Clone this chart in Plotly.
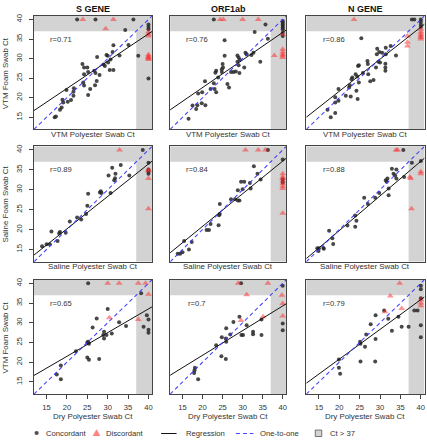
import plotly.graph_objects as go

# ---------------- data ----------------
gene_titles = ["S GENE", "ORF1ab", "N GENE"]
x_titles = ["VTM Polyester Swab Ct", "Saline Polyester Swab Ct", "Dry Polyester Swab Ct"]
y_titles = ["VTM Foam Swab Ct", "Saline Foam Swab Ct", "VTM Foam Swab Ct"]
tick_values = [15, 20, 25, 30, 35, 40]
ct_cutoff = 37
r_values = ["0.71", "0.76", "0.86", "0.89", "0.84", "0.88", "0.65", "0.7", "0.79"]
reg_intercept = [8.4, 8.5, 5.25, 3.9, 4.4, 2.35, 9.5, 9.26, 5.7]
reg_slope = [0.698, 0.705, 0.82, 0.814, 0.82, 0.87, 0.60, 0.625, 0.754]

# Panel 1: VTM, S gene
p1_conc_x = [22.5, 27, 36.3, 34.3, 37.5, 40, 40, 40, 40, 17.0, 17.3, 18.3, 18.7, 19.1, 18.9, 20.2, 21.0, 19.9, 21.6, 21.7, 21.6, 23.8, 24.2, 25.0, 24.2, 24.0, 24.2, 25.2, 25.7, 26.7, 27.0, 27.4, 27.3, 26.9, 28.0, 29.0, 29.3, 29.7, 30.0, 30.1, 30.5, 31.4, 30.7, 31.2, 31.4, 32.9, 35.1, 25.2]
p1_conc_y = [40, 40, 40, 37.3, 30.7, 38.7, 38.1, 37.5, 24.9, 15.0, 15.2, 16.9, 17.5, 18.8, 19.5, 19.0, 19.4, 22.0, 21.5, 22.4, 20.5, 28.6, 27.7, 27.7, 26.0, 23.9, 23.1, 20.7, 22.2, 26.9, 26.3, 30.4, 24.3, 23.2, 25.8, 28.5, 28.1, 30.9, 30.7, 29.0, 27.1, 27.1, 29.8, 31.7, 33.4, 30.8, 33.5, 26.6]
p1_disc_x = [23.9, 31.4, 29.5, 40, 40, 40, 40, 40, 40, 40, 40]
p1_disc_y = [40, 40, 37.6, 36.8, 36.2, 35.8, 31.0, 30.6, 30.3, 30.0, 29.8]

# Panel 2: VTM, ORF1ab
p2_conc_x = [22.8, 35.7, 33.0, 36.3, 40, 40, 40, 40, 40, 40, 40, 40, 25.5, 25.5, 28.7, 29.0, 30.7, 31.0, 32.2, 29.3, 28.7, 29.0, 30.4, 29.2, 27.7, 28.3, 27.1, 25.0, 25.1, 24.8, 23.4, 23.2, 23.9, 24.8, 20.6, 26.2, 26.6, 22.8, 23.0, 23.4, 22.0, 19.9, 18.9, 19.8, 20.7, 18.7, 18.4, 17.5, 16.5, 34.4, 32.7]
p2_conc_y = [40, 38.7, 36.8, 35.1, 39.6, 39.2, 38.7, 38.3, 37.9, 37.5, 36.6, 35.8, 34.7, 30.7, 30.8, 30.3, 31.5, 31.1, 30.9, 29.7, 29.2, 28.3, 27.7, 26.3, 26.6, 26.7, 26.6, 28.6, 27.7, 27.3, 26.9, 26.4, 25.2, 26.6, 24.2, 23.5, 22.6, 23.7, 22.2, 21.4, 22.2, 21.4, 21.1, 18.6, 18.1, 18.1, 17.1, 18.0, 14.6, 29.2, 31.5]
p2_disc_x = [24.4, 25.2, 30.0, 33.9, 37.9, 40, 40, 40, 40, 40, 40]
p2_disc_y = [40, 40, 40, 40, 30.8, 36.2, 32.4, 31.7, 31.1, 30.7, 30.3]

# Panel 3: VTM, N gene
p3_conc_x = [37.8, 38.4, 40, 40, 40, 40, 25.4, 32.6, 31.4, 29.3, 29.8, 29.2, 30.5, 31.4, 33.9, 29.6, 30.0, 31.3, 31.3, 31.3, 29.0, 26.9, 27.0, 24.8, 24.6, 25.8, 27.1, 24.0, 24.4, 23.2, 23.0, 24.8, 27.6, 28.4, 22.6, 22.4, 24.2, 19.8, 21.6, 22.8, 24.5, 19.0, 19.8, 19.0, 17.1, 19.0, 17.9]
p3_conc_y = [40, 40, 40, 39.4, 38.7, 38.1, 35.2, 33.2, 32.8, 32.5, 31.7, 31.1, 31.5, 31.1, 30.8, 29.2, 29.0, 28.7, 27.7, 26.9, 27.7, 29.4, 28.6, 28.3, 28.1, 26.3, 26.0, 26.0, 25.4, 25.2, 24.7, 23.9, 24.2, 24.5, 23.2, 22.6, 21.8, 22.2, 20.5, 20.3, 19.7, 20.1, 19.2, 18.8, 16.9, 16.1, 15.0]
p3_disc_x = [23.6, 36.7, 36.7, 36.7, 40, 40, 40, 40, 40, 40]
p3_disc_y = [40, 35.8, 34.2, 33.2, 37.5, 36.8, 36.2, 35.8, 35.4, 35.0]

# Panel 4: Saline, S gene
p4_conc_x = [38.6, 40, 40, 40, 40, 35.3, 33.2, 31.1, 30.2, 31.9, 31.8, 31.6, 30.7, 28.3, 28.5, 28.1, 25.2, 25.0, 24.7, 23.5, 22.5, 20.7, 19.7, 18.3, 17.7, 16.2, 15.8, 15.0, 13.9, 18.1]
p4_conc_y = [40, 36.8, 35.1, 34.6, 34.0, 33.6, 36.2, 35.5, 33.6, 34.0, 32.9, 32.4, 29.2, 29.6, 29.2, 29.3, 29.0, 26.0, 23.9, 22.5, 23.0, 22.0, 19.2, 19.4, 17.1, 19.5, 16.3, 16.3, 15.8, 19.1]
p4_disc_x = [32.9, 40, 40, 40, 40]
p4_disc_y = [40, 35.0, 34.8, 32.8, 25.2]

# Panel 5: Saline, ORF1ab
p5_conc_x = [36.3, 40, 40, 40, 32.8, 33.7, 34.5, 31.8, 30.4, 29.6, 32.0, 30.0, 28.8, 28.1, 28.8, 29.2, 27.1, 24.3, 24.3, 24.1, 24.0, 22.0, 21.6, 21.0, 17.3, 16.6, 15.4, 14.4, 13.8, 15.0]
p5_conc_y = [40, 37.6, 32.6, 31.8, 35.9, 34.0, 32.6, 31.7, 32.0, 32.0, 30.3, 30.1, 29.9, 27.6, 27.3, 27.3, 27.6, 26.4, 23.9, 23.6, 21.1, 21.4, 19.9, 19.9, 16.9, 15.0, 17.1, 13.9, 13.9, 14.3]
p5_disc_x = [30.7, 33.9, 35.7, 40, 40, 40, 40, 40, 40, 40, 40]
p5_disc_y = [40, 40, 40, 34.0, 33.2, 32.8, 32.2, 31.5, 30.9, 30.3, 24.1]

# Panel 6: Saline, N gene
p6_conc_x = [35.7, 37.8, 35.9, 40, 32.9, 34.0, 33.3, 33.7, 31.8, 31.4, 31.6, 34.0, 32.1, 32.1, 29.8, 28.8, 27.0, 26.1, 23.9, 24.2, 23.9, 22.0, 17.5, 18.3, 18.5, 16.1, 15.0, 14.9, 16.2, 14.6]
p6_conc_y = [40, 36.8, 33.2, 37.2, 35.3, 35.1, 34.0, 33.6, 32.8, 32.4, 32.0, 32.8, 30.3, 28.6, 29.2, 28.0, 26.4, 28.0, 23.5, 22.2, 20.7, 21.0, 19.7, 17.8, 16.4, 15.4, 15.3, 14.6, 15.2, 15.3]
p6_disc_x = [33.9, 34.3, 40, 40, 37.3, 37.5, 37.7]
p6_disc_y = [40, 40, 34.5, 34.0, 33.2, 32.8, 25.2]

# Panel 7: Dry, S gene
p7_conc_x = [25.2, 38.2, 39.6, 40, 38.8, 40, 40, 30.0, 27.3, 26.3, 29.1, 28.9, 29.7, 29.1, 31.0, 32.8, 34.5, 25.2, 25.4, 25.0, 22.2, 25.0, 25.4, 27.9, 18.5, 17.5, 18.5]
p7_conc_y = [40, 37.5, 31.9, 30.8, 29.0, 28.2, 27.5, 33.5, 31.1, 28.8, 27.7, 26.9, 26.9, 26.0, 27.3, 30.1, 29.2, 25.2, 24.7, 25.0, 22.8, 21.2, 20.6, 20.8, 19.2, 16.9, 15.7]
p7_disc_x = [30, 32.8, 37.5, 39.3, 40, 37.5, 30.4]
p7_disc_y = [40, 40, 40, 40, 37.2, 30.8, 31.3]

# Panel 8: Dry, ORF1ab
p8_conc_x = [29.6, 40, 40, 40, 34.7, 29.2, 27.7, 31.0, 32.6, 32.6, 29.7, 30.1, 34.7, 25.9, 24.8, 25.8, 26.9, 25.9, 23.4, 24.7, 25.8, 18.1, 18.0, 17.9, 18.9]
p8_conc_y = [40, 39.4, 29.8, 28.1, 30.8, 31.5, 30.2, 29.4, 27.7, 27.1, 26.9, 26.9, 26.9, 28.6, 26.3, 26.0, 27.0, 25.2, 24.3, 21.5, 20.8, 18.6, 18.0, 17.3, 15.7]
p8_disc_x = [28.9, 36.3, 31.0, 39.8, 40, 40, 35.1, 29.6]
p8_disc_y = [40, 40, 37.1, 37.0, 34.9, 31.7, 31.5, 30.6]

# Panel 9: Dry, N gene
p9_conc_x = [40, 40, 40, 40, 40, 38.4, 39.2, 31.0, 28.9, 32.0, 34.5, 27.7, 35.3, 37.0, 32.9, 28.9, 26.6, 25.1, 25.2, 26.3, 19.9, 19.9, 20.2, 25.2, 28.8]
p9_conc_y = [39.4, 38.5, 36.2, 29.4, 26.3, 33.1, 33.1, 33.1, 31.9, 31.0, 31.5, 29.6, 29.0, 29.0, 28.0, 25.9, 27.0, 25.2, 24.7, 23.9, 20.7, 18.6, 17.1, 20.2, 20.2]
p9_disc_x = [34.8, 40, 40, 40, 32.5, 35.3, 31.2]
p9_disc_y = [40, 35.8, 35.0, 34.3, 36.8, 33.6, 32.8]

panels = [
    (p1_conc_x, p1_conc_y, p1_disc_x, p1_disc_y),
    (p2_conc_x, p2_conc_y, p2_disc_x, p2_disc_y),
    (p3_conc_x, p3_conc_y, p3_disc_x, p3_disc_y),
    (p4_conc_x, p4_conc_y, p4_disc_x, p4_disc_y),
    (p5_conc_x, p5_conc_y, p5_disc_x, p5_disc_y),
    (p6_conc_x, p6_conc_y, p6_disc_x, p6_disc_y),
    (p7_conc_x, p7_conc_y, p7_disc_x, p7_disc_y),
    (p8_conc_x, p8_conc_y, p8_disc_x, p8_disc_y),
    (p9_conc_x, p9_conc_y, p9_disc_x, p9_disc_y),
]

# ---------------- layout / style ----------------
W, H = 427, 440
AX_RANGE = [11.9, 40.9]
COLS = [(34, 152.5), (170.5, 287), (307, 425.5)]
ROWS = [(14, 128), (145, 261), (279, 394)]
FONT = "Liberation Sans, Arial, Helvetica, sans-serif"
TXT = "#333333"
GRAY = "#d3d3d3"
FRAME = "#444444"
BLACK_PT = "rgba(40,40,40,0.85)"
RED_PT = "rgba(255,40,40,0.5)"
BLUE = "rgba(50,50,255,0.9)"
DASH = "4px,3px"


def px(x):
    return x / W


def py(y):
    return 1 - y / H


fig = go.Figure()
shapes = []
annotations = []
layout_axes = {}

for k in range(9):
    r, c = divmod(k, 3)
    idx = k + 1
    xa = "x" if idx == 1 else f"x{idx}"
    ya = "y" if idx == 1 else f"y{idx}"
    xkey = "xaxis" if idx == 1 else f"xaxis{idx}"
    ykey = "yaxis" if idx == 1 else f"yaxis{idx}"
    cx0, cx1 = COLS[c]
    ry0, ry1 = ROWS[r]
    layout_axes[xkey] = dict(
        domain=[px(cx0), px(cx1)], anchor=ya, range=AX_RANGE,
        showgrid=False, zeroline=False, showline=True, mirror=True,
        linecolor=FRAME, linewidth=1,
        tickvals=tick_values, ticks="outside" if r == 2 else "",
        ticklen=4, tickcolor=FRAME, showticklabels=(r == 2),
        ticklabelstandoff=2,
        tickfont=dict(family=FONT, size=7.6, color=TXT),
    )
    layout_axes[ykey] = dict(
        domain=[py(ry1), py(ry0)], anchor=xa, range=AX_RANGE,
        showgrid=False, zeroline=False, showline=True, mirror=True,
        linecolor=FRAME, linewidth=1,
        tickvals=tick_values, ticks="outside" if c == 0 else "",
        ticklen=4, tickcolor=FRAME, showticklabels=(c == 0),
        tickangle=-90, ticklabelstandoff=4,
        tickfont=dict(family=FONT, size=7.6, color=TXT),
    )
    # Ct > 37 shaded regions
    shapes.append(dict(type="rect", xref=xa, yref=ya, x0=ct_cutoff, x1=AX_RANGE[1],
                       y0=AX_RANGE[0], y1=AX_RANGE[1], fillcolor=GRAY,
                       line=dict(width=0), layer="below"))
    shapes.append(dict(type="rect", xref=xa, yref=ya, x0=AX_RANGE[0], x1=AX_RANGE[1],
                       y0=ct_cutoff, y1=AX_RANGE[1], fillcolor=GRAY,
                       line=dict(width=0), layer="below"))

    cxs, cys, dxs, dys = panels[k]
    fig.add_trace(go.Scatter(x=cxs, y=cys, mode="markers", xaxis=xa, yaxis=ya,
                             marker=dict(symbol="circle", size=4, color=BLACK_PT, line=dict(width=0)),
                             showlegend=False, hoverinfo="skip"))
    fig.add_trace(go.Scatter(x=dxs, y=dys, mode="markers", xaxis=xa, yaxis=ya,
                             marker=dict(symbol="triangle-up", size=6, color=RED_PT, line=dict(width=0)),
                             showlegend=False, hoverinfo="skip"))
    lx = AX_RANGE
    fig.add_trace(go.Scatter(x=lx, y=[reg_intercept[k] + reg_slope[k] * v for v in lx],
                             mode="lines", xaxis=xa, yaxis=ya,
                             line=dict(color="#111111", width=1), showlegend=False, hoverinfo="skip"))
    fig.add_trace(go.Scatter(x=lx, y=lx, mode="lines", xaxis=xa, yaxis=ya,
                             line=dict(color=BLUE, width=1.1, dash=DASH), showlegend=False,
                             hoverinfo="skip"))
    # r label
    annotations.append(dict(x=18.6, y=35, xref=xa, yref=ya, text="r=" + r_values[k],
                            showarrow=False, xanchor="center", yanchor="middle",
                            font=dict(family=FONT, size=7.6, color=TXT)))
    # x-axis title
    xt_y = [133.5, 265.5, 416][r]
    annotations.append(dict(x=px((cx0 + cx1) / 2), y=py(xt_y), xref="paper", yref="paper",
                            text=x_titles[r], showarrow=False, xanchor="center", yanchor="middle",
                            font=dict(family=FONT, size=7.9, color=TXT)))
    if c == 0:
        annotations.append(dict(x=px(5.5), y=py((ry0 + ry1) / 2), xref="paper", yref="paper",
                                text=y_titles[r], showarrow=False, textangle=-90,
                                xanchor="center", yanchor="middle",
                                font=dict(family=FONT, size=7.9, color=TXT)))
    if r == 0:
        annotations.append(dict(x=px((cx0 + cx1) / 2), y=py(7), xref="paper", yref="paper",
                                text="<b>" + gene_titles[c] + "</b>", showarrow=False,
                                xanchor="center", yanchor="middle",
                                font=dict(family=FONT, size=9, color="#111111")))

# ---------------- legend (manual) ----------------
LY = 433
shapes.append(dict(type="circle", xref="paper", yref="paper",
                   x0=px(34.6), x1=px(38.8), y0=py(435.1), y1=py(430.9),
                   fillcolor="rgba(60,60,60,0.9)", line=dict(width=0)))
tri = f"M {px(92.8)} {py(436)} L {px(100.6)} {py(436)} L {px(96.7)} {py(429.2)} Z"
shapes.append(dict(type="path", xref="paper", yref="paper", path=tri,
                   fillcolor="rgba(255,90,90,0.75)", line=dict(width=0)))
shapes.append(dict(type="line", xref="paper", yref="paper", x0=px(161.5), x1=px(177),
                   y0=py(LY + 0.5), y1=py(LY + 0.5), line=dict(color="#111111", width=1)))
shapes.append(dict(type="line", xref="paper", yref="paper", x0=px(236.5), x1=px(254),
                   y0=py(LY + 0.5), y1=py(LY + 0.5), line=dict(color=BLUE, width=1.1, dash=DASH)))
shapes.append(dict(type="rect", xref="paper", yref="paper", x0=px(316), x1=px(322.5),
                   y0=py(436.5), y1=py(430), fillcolor=GRAY, line=dict(color="#555555", width=0.8)))
for text, x in [("Concordant", 44.3), ("Discordant", 104.3), ("Regression", 184.3),
                ("One-to-one", 258.3), ("Ct &gt; 37", 328.3)]:
    annotations.append(dict(x=px(x), y=py(LY), xref="paper", yref="paper", text=text,
                            showarrow=False, xanchor="left", yanchor="middle",
                            font=dict(family=FONT, size=7.7, color=TXT)))

fig.update_layout(
    width=W, height=H, autosize=False,
    margin=dict(l=0, r=0, t=0, b=0),
    paper_bgcolor="white", plot_bgcolor="white",
    shapes=shapes, annotations=annotations, showlegend=False,
    **layout_axes,
)

fig.write_html(
    "out.html",
    config={"displayModeBar": False},
    post_script="document.body.style.margin='0';document.body.style.padding='0';"
                "document.documentElement.style.overflow='hidden';",
)
